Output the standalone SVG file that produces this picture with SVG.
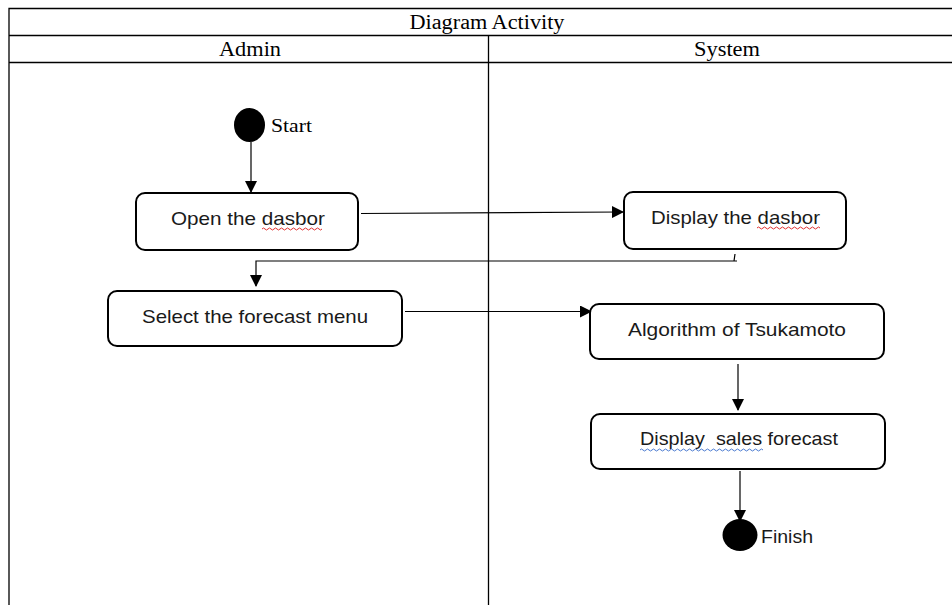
<svg xmlns="http://www.w3.org/2000/svg" width="952" height="605" viewBox="0 0 952 605">
<defs>
<style>
.frame{fill:none;stroke:#000;stroke-width:1.3}
.box{fill:#fff;stroke:#000;stroke-width:2}
.lbl{font-family:"Liberation Sans",Arial,sans-serif;font-size:18.5px;fill:#1a1a1a;text-anchor:middle;white-space:pre}
.hdr{font-family:"Liberation Serif","Times New Roman",serif;font-size:20px;fill:#000;text-anchor:middle}
.side{font-family:"Liberation Serif","Times New Roman",serif;font-size:19px;fill:#000}
.edge{fill:none;stroke:#000;stroke-width:1.2}
.red{fill:none;stroke:#e03030;stroke-width:1}
.blue{fill:none;stroke:#4a7ad0;stroke-width:1}
</style>
<marker id="ah" markerWidth="12" markerHeight="12" viewBox="0 0 12 12" refX="11" refY="6" orient="auto" markerUnits="userSpaceOnUse">
<path d="M0,0 L12,6 L0,12 Z" fill="#000"/>
</marker>
</defs>
<rect width="952" height="605" fill="#fff"/>
<g id="frame">
<path class="frame" d="M9,605 V8.5 H952 M9,35.5 H952 M9,62.5 H952 M488.5,35.5 V605"/>
<text class="hdr" x="487" y="29" textLength="155" lengthAdjust="spacingAndGlyphs">Diagram Activity</text>
<text class="hdr" x="250" y="56" textLength="62" lengthAdjust="spacingAndGlyphs">Admin</text>
<text class="hdr" x="727" y="56" textLength="66" lengthAdjust="spacingAndGlyphs">System</text>
</g>
<g id="connectors">
<path class="edge" d="M251,142 V192" marker-end="url(#ah)"/>
<path class="edge" d="M361,213.5 L623,212" marker-end="url(#ah)"/>
<path class="edge" d="M735,254 L734,261 M737,261 H256 V286" marker-end="url(#ah)"/>
<path class="edge" d="M405,311.5 H591" marker-end="url(#ah)"/>
<path class="edge" d="M738,364 V410" marker-end="url(#ah)"/>
<path class="edge" d="M740,471 V521" marker-end="url(#ah)"/>
</g>
<g id="start">
<ellipse cx="249.5" cy="125" rx="15.5" ry="17" fill="#000"/>
<text class="side" x="271" y="132" textLength="41" lengthAdjust="spacingAndGlyphs">Start</text>
</g>
<g id="open-dasbor">
<rect class="box" x="136" y="193" width="222" height="57" rx="9"/>
<text class="lbl" x="248" y="225" textLength="154" lengthAdjust="spacingAndGlyphs">Open the dasbor</text>
<path class="red" d="M262,229 q1.5,-2 3,0 t3,0 t3,0 t3,0 t3,0 t3,0 t3,0 t3,0 t3,0 t3,0 t3,0 t3,0 t3,0 t3,0 t3,0 t3,0 t3,0 t3,0 t3,0 t3,0"/>
</g>
<g id="display-dasbor">
<rect class="box" x="624" y="192" width="222" height="57" rx="9"/>
<text class="lbl" x="735.5" y="224" textLength="169" lengthAdjust="spacingAndGlyphs">Display the dasbor</text>
<path class="red" d="M757,228 q1.5,-2 3,0 t3,0 t3,0 t3,0 t3,0 t3,0 t3,0 t3,0 t3,0 t3,0 t3,0 t3,0 t3,0 t3,0 t3,0 t3,0 t3,0 t3,0 t3,0 t3,0 t3,0"/>
</g>
<g id="select-forecast">
<rect class="box" x="108" y="291" width="294" height="55" rx="9"/>
<text class="lbl" x="255" y="323" textLength="226" lengthAdjust="spacingAndGlyphs">Select the forecast menu</text>
</g>
<g id="tsukamoto">
<rect class="box" x="590" y="304" width="294" height="55" rx="9"/>
<text class="lbl" x="737" y="336" textLength="218" lengthAdjust="spacingAndGlyphs">Algorithm of Tsukamoto</text>
</g>
<g id="display-forecast">
<rect class="box" x="591" y="414" width="294" height="55" rx="9"/>
<text class="lbl" x="739" y="445" textLength="198" lengthAdjust="spacingAndGlyphs">Display  sales forecast</text>
<path class="blue" d="M640,450 q1.5,-2 3,0 t3,0 t3,0 t3,0 t3,0 t3,0 t3,0 t3,0 t3,0 t3,0 t3,0 t3,0 t3,0 t3,0 t3,0 t3,0 t3,0 t3,0 t3,0 t3,0 t3,0 t3,0 t3,0 t3,0 t3,0 t3,0 t3,0 t3,0 t3,0 t3,0 t3,0 t3,0 t3,0 t3,0 t3,0 t3,0 t3,0 t3,0 t3,0 t3,0 t3,0"/>
</g>
<g id="finish">
<ellipse cx="740" cy="535" rx="17.5" ry="16" fill="#000"/>
<text class="lbl" x="761" y="543" style="text-anchor:start" textLength="52" lengthAdjust="spacingAndGlyphs">Finish</text>
</g>
</svg>
